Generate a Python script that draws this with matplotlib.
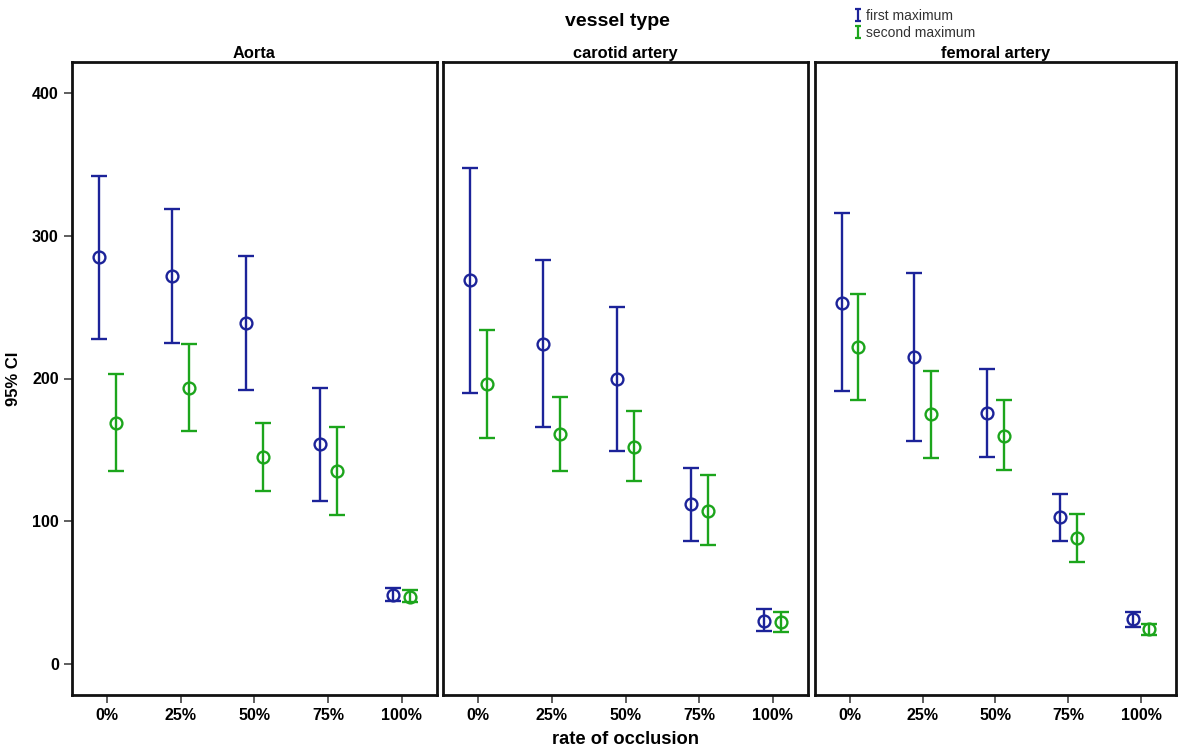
import numpy as np
import matplotlib
matplotlib.use('Agg')
import matplotlib.pyplot as plt
from matplotlib.lines import Line2D
from matplotlib.path import Path

plt.rcParams['font.family'] = ['Liberation Sans', 'DejaVu Sans']

vessels = ['Aorta', 'carotid artery', 'femoral artery']
occlusion = ['0%', '25%', '50%', '75%', '100%']
series = ['first maximum', 'second maximum']
colors = ['#1c2399', '#1ca51c']

# mean, lower CI, upper CI per vessel (rows) and occlusion rate (columns)
first_mean = [[285, 272, 239, 154, 48],
              [269, 224, 200, 112, 30],
              [253, 215, 176, 103, 31]]
first_low = [[228, 225, 192, 114, 44],
             [190, 166, 149, 86, 23],
             [191, 156, 145, 86, 26]]
first_high = [[342, 319, 286, 193, 53],
              [348, 283, 250, 137, 38],
              [316, 274, 207, 119, 36]]

second_mean = [[169, 193, 145, 135, 47],
               [196, 161, 152, 107, 29],
               [222, 175, 160, 88, 24]]
second_low = [[135, 163, 121, 104, 43],
              [158, 135, 128, 83, 22],
              [185, 144, 136, 71, 20]]
second_high = [[203, 224, 169, 166, 52],
               [234, 187, 177, 132, 36],
               [259, 205, 185, 105, 28]]

y_ticks = [0, 100, 200, 300, 400]

W, H = 1178, 751
fig = plt.figure(figsize=(W / 100, H / 100), dpi=100)

panel_px = [(72, 437), (443, 808), (815, 1176)]
top_px, bottom_px = 62, 695

x = np.arange(len(occlusion))
offset = 0.115

for i, vessel in enumerate(vessels):
    x0, x1 = panel_px[i]
    ax = fig.add_axes([x0 / W, 1 - bottom_px / H, (x1 - x0) / W, (bottom_px - top_px) / H])
    groups = [(first_mean, first_low, first_high, -offset),
              (second_mean, second_low, second_high, offset)]
    for (mean, low, high, dx), col in zip(groups, colors):
        m = np.array(mean[i])
        err = np.vstack([m - np.array(low[i]), np.array(high[i]) - m])
        ax.errorbar(x + dx, m, yerr=err, fmt='o', mfc='none', mec=col,
                    mew=1.7, ms=8.5, ecolor=col, elinewidth=1.7,
                    capsize=6, capthick=1.9)
    ax.set_xlim(-0.48, 4.48)
    ax.set_ylim(-22, 422)
    ax.set_xticks(x)
    ax.set_xticklabels(occlusion, fontsize=11.5, fontweight='bold')
    ax.set_yticks(y_ticks)
    if i == 0:
        ax.set_yticklabels([str(t) for t in y_ticks], fontsize=11.5, fontweight='bold')
        ax.set_ylabel('95% CI', fontsize=12, fontweight='bold', labelpad=8)
    else:
        ax.tick_params(axis='y', left=False, labelleft=False)
    ax.tick_params(axis='both', direction='out', length=6, width=1.1, color='#333333')
    for sp in ax.spines.values():
        sp.set_linewidth(2.0)
        sp.set_color('#111111')
    ax.set_title(vessel, fontsize=11.8, fontweight='bold', pad=3)

fig.text(617 / W, 1 - 22 / H, 'vessel type', ha='center', va='center',
         fontsize=14, fontweight='bold')
fig.text(626 / W, 1 - 740 / H, 'rate of occlusion', ha='center', va='center',
         fontsize=13.2, fontweight='bold')

# capped bar icon for the legend
icon = Path([(-0.5, 1), (0.5, 1), (0, 1), (0, -1), (-0.5, -1), (0.5, -1)],
            [Path.MOVETO, Path.LINETO, Path.MOVETO, Path.LINETO,
             Path.MOVETO, Path.LINETO])
handles = [Line2D([], [], linestyle='none', marker=icon, color=c, mfc='none',
                  mew=1.6, markersize=8) for c in colors]
fig.legend(handles, series, loc='upper left',
           bbox_to_anchor=(846 / W, 1 - 1 / H), frameon=False, fontsize=10,
           handlelength=0.5, handletextpad=0.35, labelspacing=0.2,
           borderpad=0.1, labelcolor='#333333')

fig.savefig('out.png', dpi=100)
